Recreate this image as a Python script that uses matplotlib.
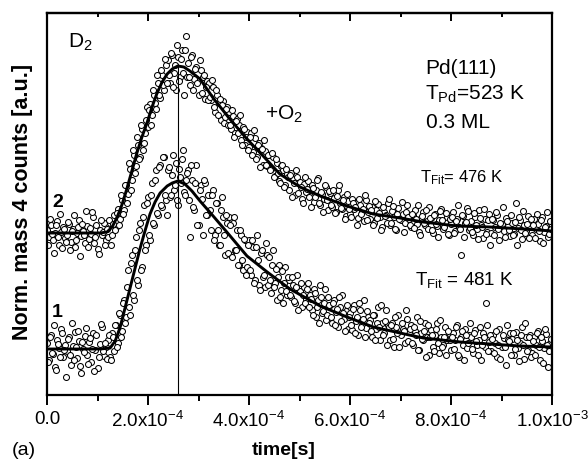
import numpy as np
import matplotlib
matplotlib.use("Agg")
import matplotlib.pyplot as plt

plt.rcParams['font.family'] = ['Liberation Sans', 'DejaVu Sans']
plt.rcParams['mathtext.fontset'] = 'custom'
plt.rcParams['mathtext.rm'] = 'Liberation Sans'
plt.rcParams['mathtext.it'] = 'Liberation Sans:italic'
plt.rcParams['mathtext.bf'] = 'Liberation Sans:bold'

# ---- data (time in s; counts in arbitrary units) ----
n_pts = 250
t_even = np.arange(n_pts) * 4e-6          # sample times, even channels
t_odd = np.arange(n_pts) * 4e-6 + 2e-6    # sample times, odd channels

counts_2_even = [
    165,158,170,155,162,174,150,163,168,157,
    160,171,153,166,148,162,175,159,164,152,
    169,156,161,178,158,146,165,160,172,155,
    158,172,160,180,168,186,176,195,185,210,
    201,226,215,240,229,250,238,266,252,275,
    268,291,280,300,286,312,297,320,305,330,
    335,312,340,322,305,338,318,345,300,359,
    332,310,340,316,328,300,325,318,296,314,
    312,295,308,283,300,292,275,294,278,288,
    283,266,279,262,276,270,255,268,250,263,
    248,262,243,257,238,252,247,230,244,229,
    240,226,238,219,232,214,229,225,210,221,
    205,222,216,200,218,213,196,211,203,214,
    199,210,193,205,217,190,201,196,208,185,
    202,188,197,183,205,192,186,198,179,194,
    181,196,186,192,177,190,184,174,195,183,
    176,188,172,185,191,178,168,183,180,192,
    170,184,178,165,187,175,181,172,190,176,
    168,180,185,171,163,177,183,170,174,188,
    177,162,181,169,175,186,166,173,178,160,
    171,183,164,176,168,140,179,172,187,165,
    174,160,178,166,185,170,157,176,163,181,
    162,175,168,180,155,171,164,177,169,159,
    172,161,192,167,175,156,170,164,179,168,
    160,176,166,171,154,178,163,169,158,174,
]
counts_2_odd = [
    150,176,161,142,170,158,181,147,166,153,
    173,145,164,180,155,168,139,171,160,184,
    148,167,183,152,170,141,175,163,150,166,
    175,150,171,165,182,170,200,181,210,192,
    232,205,245,222,258,236,270,245,262,288,
    285,270,305,292,320,300,325,310,336,312,
    320,342,308,330,350,314,336,322,345,318,
    318,338,305,326,312,335,302,320,308,295,
    298,315,288,305,280,296,290,272,286,270,
    270,285,258,274,262,280,250,266,258,245,
    258,240,265,236,250,228,246,255,230,240,
    225,242,218,236,222,212,230,208,226,218,
    220,198,212,225,202,208,192,218,206,198,
    188,207,198,215,192,203,183,210,195,204,
    190,205,182,199,210,187,195,176,201,186,
    178,192,188,170,196,181,186,200,175,189,
    185,170,194,177,182,165,188,179,172,196,
    172,189,166,181,176,193,163,183,178,170,
    181,167,176,190,160,179,172,185,166,177,
    165,180,171,158,184,175,168,182,161,176,
    178,162,174,190,166,180,158,173,184,167,
    163,182,170,156,177,168,186,161,175,150,
    176,160,183,166,172,188,158,174,165,180,
    160,173,150,178,165,184,162,171,157,176,
    170,157,181,164,175,152,168,183,161,166,
]

counts_1_even = [
    52,35,60,41,28,55,47,66,38,50,
    44,58,30,49,63,37,54,22,46,59,
    40,53,33,62,45,27,51,68,39,48,
    55,38,62,44,70,52,80,64,95,78,
    125,80,140,95,158,110,172,128,190,150,
    198,155,212,170,225,180,230,188,238,195,
    225,198,220,205,232,190,218,236,203,215,
    225,158,215,185,230,170,210,160,212,180,
    200,165,205,160,192,150,185,178,140,172,
    178,140,172,145,165,130,160,125,155,128,
    155,120,148,115,160,110,142,118,108,140,
    138,102,145,112,95,130,105,92,128,100,
    115,98,110,92,120,104,88,108,96,112,
    100,85,106,78,95,110,82,92,75,98,
    90,72,95,83,68,88,100,76,84,66,
    82,65,90,74,60,85,70,95,67,78,
    75,58,80,66,88,55,72,62,85,70,
    55,72,48,68,80,60,66,52,76,63,
    70,50,64,78,45,62,55,72,58,40,
    65,48,60,72,42,58,50,68,55,62,
    45,62,55,70,38,58,50,66,47,60,
    58,42,65,50,55,35,62,48,70,53,
    44,60,52,38,66,48,57,30,55,62,
    56,40,63,47,52,68,36,58,45,60,
    42,58,50,64,35,54,47,61,28,52,
]
counts_1_odd = [
    33,58,42,70,25,51,38,62,45,18,
    56,40,72,35,48,64,29,53,43,67,
    31,57,46,24,60,38,71,44,52,36,
    60,35,58,70,48,82,58,92,72,108,
    88,132,100,145,115,165,125,178,145,192,
    160,200,172,215,182,228,190,238,200,180,
    228,200,240,210,195,226,212,245,200,222,
    195,230,188,212,170,205,196,215,180,200,
    185,200,155,192,165,150,198,160,180,142,
    170,138,178,145,130,165,135,156,120,150,
    125,155,112,148,135,105,145,120,152,110,
    115,130,108,126,118,98,124,112,104,118,
    100,118,94,108,85,112,100,92,106,88,
    96,80,102,88,72,98,84,106,80,90,
    78,92,70,86,98,74,82,64,90,78,
    70,86,62,78,92,68,76,58,84,72,
    64,80,55,72,68,90,60,74,50,68,
    70,56,78,62,48,72,64,85,54,66,
    52,68,60,45,74,56,64,38,70,58,
    60,44,66,52,75,48,58,40,64,55,
    58,46,68,40,56,64,35,60,52,72,
    46,62,54,40,68,50,58,92,44,60,
    56,42,64,50,36,60,48,70,54,40,
    62,46,55,34,60,50,72,44,58,38,
    54,40,62,48,58,32,66,50,44,56,
]

# fit curves (time in units of 1e-4 s)
fit2_t = [0, 0.65, 1.05, 1.19, 1.29, 1.39, 1.49, 1.58, 1.68, 1.78, 1.88, 1.98,
          2.08, 2.18, 2.28, 2.38, 2.48, 2.59, 2.71, 2.83, 3.03, 3.29, 3.62, 3.96,
          4.28, 4.61, 5.01, 5.41, 5.94, 6.46, 6.99, 7.45, 8.12, 8.77, 9.43, 10.0]
fit2_y = [162, 162, 162, 163, 168, 178, 191, 206, 224, 242, 258, 272,
          288, 302, 313, 321, 326, 329, 328, 324, 316, 297, 276, 256,
          239, 221, 208, 199, 189, 181, 177, 173, 169, 168, 166, 164]

fit1_t = [0, 1.05, 1.25, 1.35, 1.45, 1.54, 1.64, 1.74, 1.84, 1.94, 2.04, 2.14,
          2.24, 2.38, 2.48, 2.59, 2.73, 2.87, 3.03, 3.29, 3.56, 3.96, 4.36, 4.81,
          5.41, 5.94, 6.46, 6.99, 7.45, 8.18, 8.77, 9.37, 10.0]
fit1_y = [46, 46, 47, 54, 68, 86, 106, 126, 146, 164, 181, 193,
          202, 209, 212, 214, 211, 204, 194, 179, 163, 139, 123, 106,
          89, 78, 68, 62, 57, 53, 51, 49, 48]

vline_t = 2.59e-4
vline_top = 331

xticks = [0, 2e-4, 4e-4, 6e-4, 8e-4, 1e-3]
xtick_labels = ['0.0', r'2.0x10$^{\mathrm{-4}}$', r'4.0x10$^{\mathrm{-4}}$',
                r'6.0x10$^{\mathrm{-4}}$', r'8.0x10$^{\mathrm{-4}}$', r'1.0x10$^{\mathrm{-3}}$']
xminor = [1e-4, 3e-4, 5e-4, 7e-4, 9e-4]

# ---- figure ----
W, H = 588, 460
fig = plt.figure(figsize=(W/100, H/100), dpi=100)
L, R, T, B = 47, 552, 14, 396
ax = fig.add_axes([L/W, 1 - B/H, (R-L)/W, (B-T)/H])
ax.set_xlim(0, 1e-3)
ax.set_ylim(0, B - T)

mk = dict(ls='none', marker='o', ms=4.3, mfc='white', mec='black', mew=0.75, zorder=2)
for tt, cc in ((t_even, counts_2_even), (t_odd, counts_2_odd),
               (t_even, counts_1_even), (t_odd, counts_1_odd)):
    ax.plot(tt, cc, **mk)
ax.plot(np.array(fit2_t) * 1e-4, fit2_y, color='black', lw=2.1, zorder=3)
ax.plot(np.array(fit1_t) * 1e-4, fit1_y, color='black', lw=2.1, zorder=3)
ax.plot([vline_t, vline_t], [0, vline_top], color='black', lw=0.8, zorder=4)

for s in ax.spines.values():
    s.set_linewidth(1.6)
ax.set_yticks([])
ax.set_xticks(xticks)
ax.set_xticklabels(xtick_labels, fontsize=13.5)
ax.set_xticks(xminor, minor=True)
ax.tick_params(axis='x', which='major', direction='out', length=7, width=1.4, pad=4)
ax.tick_params(axis='x', which='minor', direction='out', length=4, width=1.4)

sec = ax.secondary_xaxis('top')
sec.set_xticks(xticks)
sec.set_xticks(xminor, minor=True)
sec.tick_params(axis='x', which='major', direction='in', length=6, width=1.4, labeltop=False)
sec.tick_params(axis='x', which='minor', direction='in', length=3, width=1.4)
sec.spines['top'].set_linewidth(1.6)

def ftext(x, y, s, **kw):
    fig.text(x / W, 1 - y / H, s, va='baseline', **kw)

ftext(68, 48, r'D$_2$', fontsize=15)
ftext(425, 74, 'Pd(111)', fontsize=15)
ftext(425, 100, r'T$_{\mathrm{Pd}}$=523 K', fontsize=15)
ftext(426, 128, '0.3 ML', fontsize=15)
ftext(265, 120, r'+O$_2$', fontsize=15)
ftext(420, 182, r'T$_{\mathrm{Fit}}$= 476 K', fontsize=12)
ftext(415, 285, r'T$_{\mathrm{Fit}}$ = 481 K', fontsize=13.5)
ftext(52, 207, '2', fontsize=14, fontweight='bold')
ftext(52, 317, '1', fontsize=14, fontweight='bold')
ftext(12, 455, '(a)', fontsize=14)
fig.text(284 / W, 1 - 455 / H, 'time[s]', fontsize=14, fontweight='bold',
         ha='center', va='baseline')
fig.text(23 / W, 1 - 202 / H, 'Norm. mass 4 counts [a.u.]', fontsize=15.5,
         fontweight='bold', rotation=90, ha='center', va='center')

fig.savefig('out.png', dpi=100)
